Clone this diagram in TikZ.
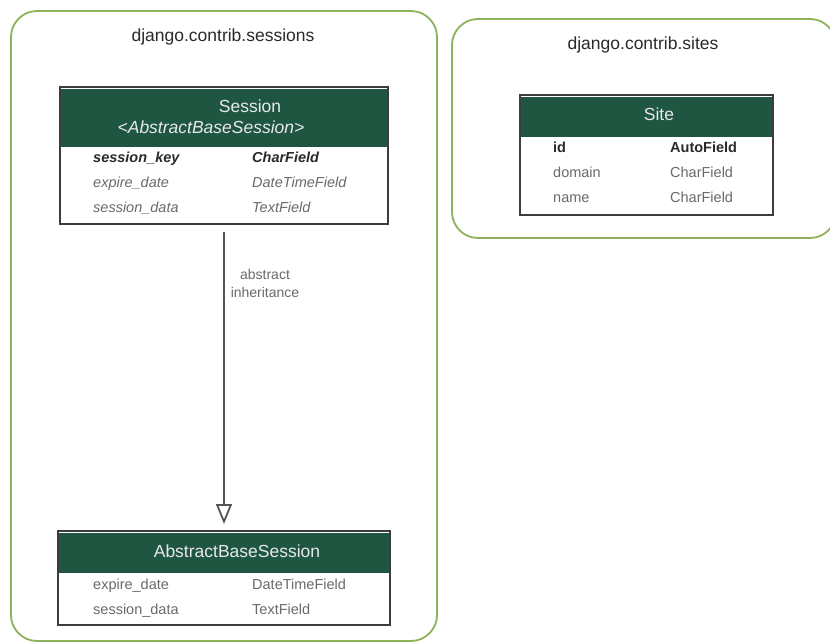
\documentclass[tikz,border=0pt]{standalone}
\usepackage{fontspec}
\setmainfont{Liberation Sans}
\usetikzlibrary{arrows.meta}
\definecolor{clusterline}{HTML}{8DB25A}
\definecolor{headfill}{HTML}{1F5641}
\definecolor{headtext}{HTML}{E8E8E8}
\definecolor{tblborder}{HTML}{3C3C3C}
\definecolor{rowdark}{HTML}{2A2A2A}
\definecolor{rowgray}{HTML}{6A6A6A}
\definecolor{edgegray}{HTML}{555555}
\tikzset{
  cluster/.style={draw=clusterline, line width=1.8pt, rounded corners=26pt},
  clustertitle/.style={font=\fontsize{17.5}{20}\selectfont, text=rowdark, inner sep=0pt},
  tbl/.style={draw=tblborder, line width=2pt, fill=white, inner sep=0pt},
  headbar/.style={fill=headfill},
  headlbl/.style={font=\fontsize{17.5}{20}\selectfont, text=headtext, inner sep=0pt},
  fieldname/.style={anchor=west, inner sep=0pt, text height=10.5pt, text depth=3pt,
    yshift=-2pt, font=\fontsize{14.5}{17}\selectfont, text=rowgray},
  keyfield/.style={fieldname, text=rowdark, font=\fontsize{14.5}{17}\selectfont\bfseries},
  inherit/.style={draw=edgegray, line width=1.8pt, -{Triangle[open, length=20pt, width=16pt, line width=1.8pt]}},
  edgelbl/.style={font=\fontsize{14}{18}\selectfont, text=rowgray, align=center, inner sep=0pt}
}
\begin{document}
\begin{tikzpicture}[x=1pt, y=-1pt]
\useasboundingbox[fill=white] (0,0) rectangle (830,644);

% clusters
\draw[cluster] (11,11) rectangle (437,641);
\node[clustertitle] (sessionsTitle) at (223,37) {django.contrib.sessions};
\draw[cluster] (452,19) rectangle (836,238);
\node[clustertitle] (sitesTitle) at (643,45) {django.contrib.sites};

% Session model
\node[tbl, minimum width=328pt, minimum height=137pt] (session) at (224,155.5) {};
\fill[headbar] (61,89) rectangle (387,147);
\node[headlbl] (sessionName) at (250,106) {Session};
\node[headlbl, font=\fontsize{17.5}{20}\selectfont\itshape] (sessionBase) at (211,127) {<AbstractBaseSession>};
\node[keyfield, font=\fontsize{14.5}{17}\selectfont\bfseries\itshape] (s1n) at (93,157) {session\_key};
\node[keyfield, font=\fontsize{14.5}{17}\selectfont\bfseries\itshape] (s1t) at (252,157) {CharField};
\node[fieldname, font=\fontsize{14.5}{17}\selectfont\itshape] (s2n) at (93,182) {expire\_date};
\node[fieldname, font=\fontsize{14.5}{17}\selectfont\itshape] (s2t) at (252,182) {DateTimeField};
\node[fieldname, font=\fontsize{14.5}{17}\selectfont\itshape] (s3n) at (93,207) {session\_data};
\node[fieldname, font=\fontsize{14.5}{17}\selectfont\itshape] (s3t) at (252,207) {TextField};

% Site model
\node[tbl, minimum width=253pt, minimum height=120pt] (site) at (646.5,155) {};
\fill[headbar] (521,97) rectangle (772,137);
\node[headlbl] (siteName) at (659,114) {Site};
\node[keyfield] (t1n) at (553,147) {id};
\node[keyfield] (t1t) at (670,147) {AutoField};
\node[fieldname] (t2n) at (553,172) {domain};
\node[fieldname] (t2t) at (670,172) {CharField};
\node[fieldname] (t3n) at (553,197) {name};
\node[fieldname] (t3t) at (670,197) {CharField};

% AbstractBaseSession model
\node[tbl, minimum width=332pt, minimum height=94pt] (absbase) at (224,578) {};
\fill[headbar] (59,533) rectangle (389,573);
\node[headlbl] (absName) at (237,551) {AbstractBaseSession};
\node[fieldname] (a1n) at (93,584) {expire\_date};
\node[fieldname] (a1t) at (252,584) {DateTimeField};
\node[fieldname] (a2n) at (93,609) {session\_data};
\node[fieldname] (a2t) at (252,609) {TextField};

% inheritance edge
\draw[inherit, shorten <=7pt, shorten >=6pt] (session) -- (absbase);
\node[edgelbl] (inhLabel) at (265,283) {abstract\\inheritance};
\end{tikzpicture}
\end{document}
